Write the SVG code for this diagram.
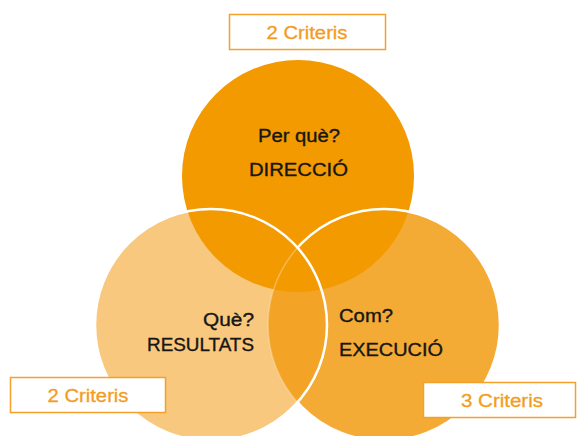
<svg xmlns="http://www.w3.org/2000/svg" width="577" height="436" viewBox="0 0 577 436">
  <defs>
    <style>
      .lbl { font-family: "Liberation Sans", Arial, sans-serif; font-size: 18px; fill: #161616; stroke: #161616; stroke-width: 0.35; }
      .crit { font-family: "Liberation Sans", Arial, sans-serif; font-size: 18px; fill: #F39C1E; stroke: #F39C1E; stroke-width: 0.3; }
      .box { fill: #ffffff; stroke: #F4A12A; stroke-width: 1.5; }
      .edge { fill: none; stroke: #ffffff; stroke-width: 2.5; }
    </style>
    <clipPath id="clipLeft"><circle cx="211" cy="325" r="116"/></clipPath>
    <clipPath id="clipOutsideLeft">
      <path clip-rule="evenodd" d="M0 0H577V436H0Z M95 325a116 116 0 1 0 232 0a116 116 0 1 0 -232 0Z"/>
    </clipPath>
  </defs>
  <rect width="577" height="436" fill="#ffffff"/>

  <!-- Resultats: lower left circle -->
  <g id="resultats">
    <circle cx="211" cy="325" r="116" fill="#F8C87E"/>
  </g>

  <!-- Execució: lower right circle, with lens shared with Resultats -->
  <g id="execucio">
    <circle cx="384" cy="325" r="116" fill="#F4AB35"/>
    <circle cx="384" cy="325" r="116" fill="#F3A426" clip-path="url(#clipLeft)"/>
  </g>

  <!-- Direcció: top circle -->
  <g id="direccio">
    <circle cx="298" cy="176" r="116" fill="#F39A00"/>
  </g>

  <!-- white outlines of the lower circles -->
  <g id="outlines">
    <circle class="edge" cx="384" cy="325" r="116" clip-path="url(#clipOutsideLeft)"/>
    <circle cx="384" cy="325" r="116" fill="none" stroke="#ffffff" stroke-opacity="0.3" stroke-width="1.5" clip-path="url(#clipLeft)"/>
    <circle class="edge" cx="211" cy="325" r="116"/>
  </g>

  <!-- circle labels -->
  <g id="labels">
    <text class="lbl" x="258" y="141.5" textLength="82" lengthAdjust="spacingAndGlyphs">Per què?</text>
    <text class="lbl" x="249" y="175.5" textLength="99" lengthAdjust="spacingAndGlyphs">DIRECCIÓ</text>
    <text class="lbl" x="203" y="326" textLength="51" lengthAdjust="spacingAndGlyphs">Què?</text>
    <text class="lbl" x="147" y="351" textLength="107" lengthAdjust="spacingAndGlyphs">RESULTATS</text>
    <text class="lbl" x="339" y="321.5" textLength="54" lengthAdjust="spacingAndGlyphs">Com?</text>
    <text class="lbl" x="339" y="355.5" textLength="104" lengthAdjust="spacingAndGlyphs">EXECUCIÓ</text>
  </g>

  <!-- criteria counters -->
  <g id="crit-top">
    <rect class="box" x="229.5" y="14.5" width="156" height="35"/>
    <text class="crit" x="307" y="38.5" text-anchor="middle" textLength="81" lengthAdjust="spacingAndGlyphs">2 Criteris</text>
  </g>
  <g id="crit-left">
    <rect class="box" x="10.5" y="377.5" width="155" height="35"/>
    <text class="crit" x="88" y="401.5" text-anchor="middle" textLength="81" lengthAdjust="spacingAndGlyphs">2 Criteris</text>
  </g>
  <g id="crit-right">
    <rect class="box" x="423.5" y="382.5" width="152" height="35"/>
    <text class="crit" x="502" y="406.5" text-anchor="middle" textLength="82" lengthAdjust="spacingAndGlyphs">3 Criteris</text>
  </g>
</svg>
